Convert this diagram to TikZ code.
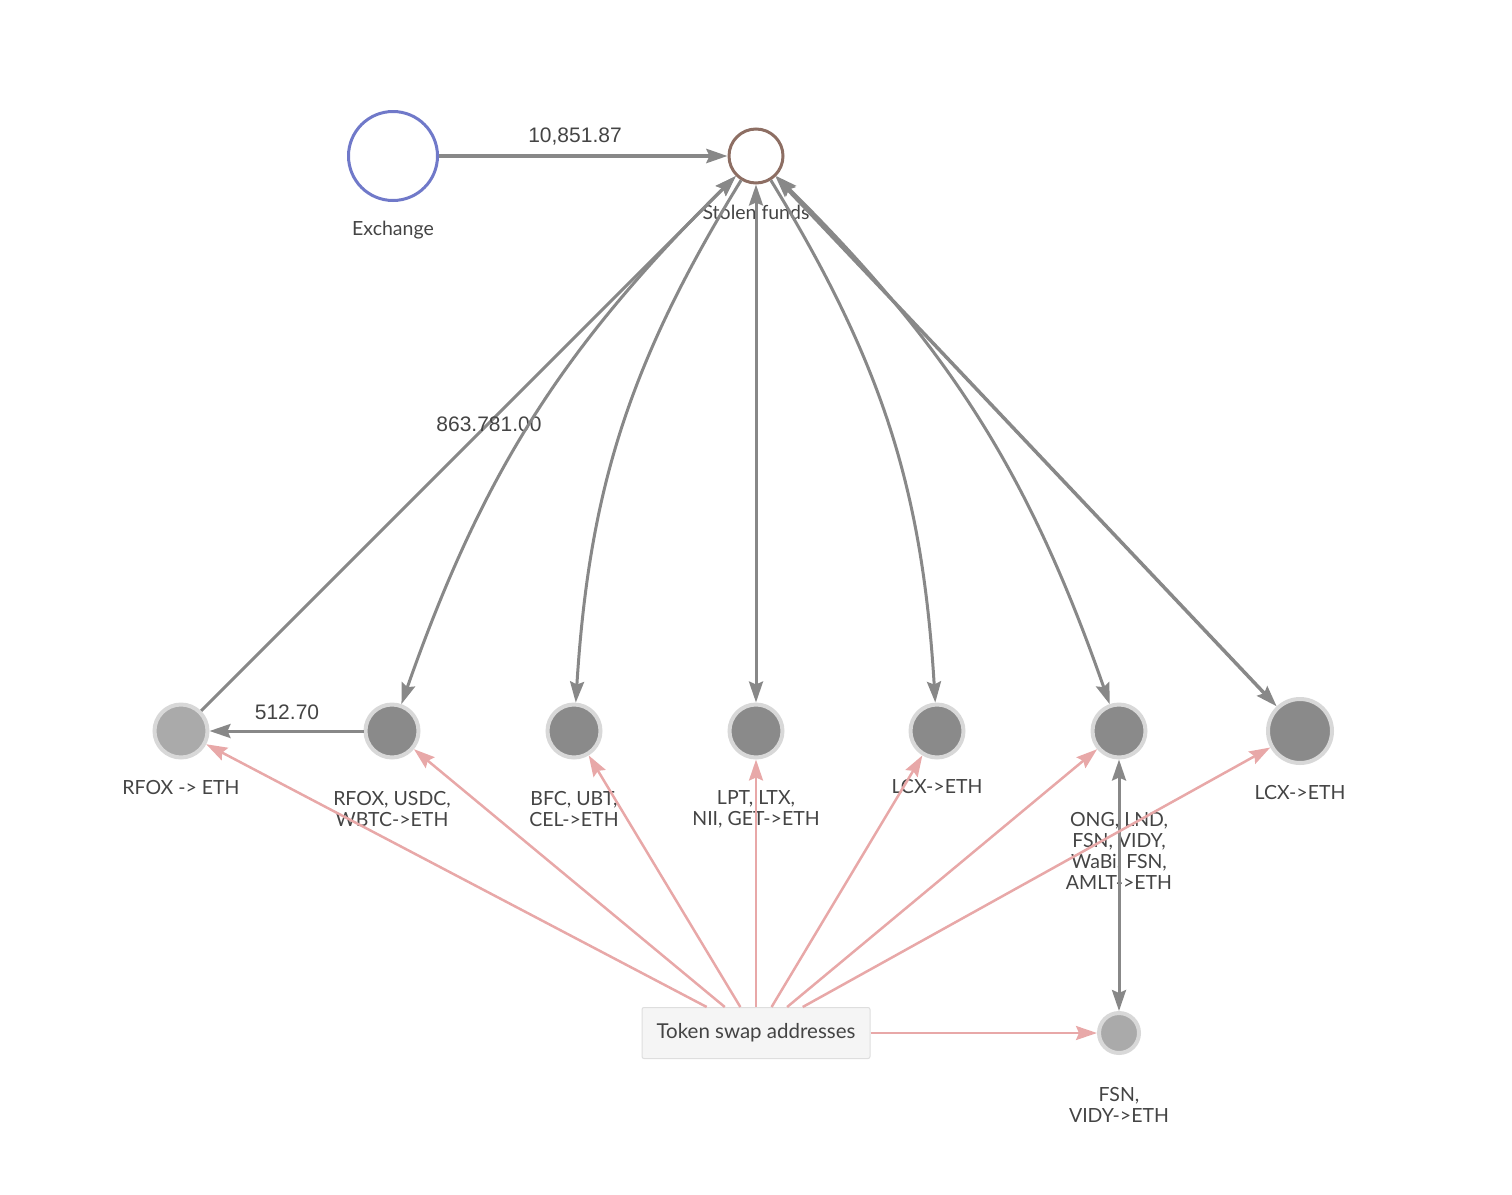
\documentclass[tikz,border=0pt]{standalone}
\usepackage{fontspec}
\setmainfont{Lato}
\newfontfamily\edgefont{Liberation Sans}
\usetikzlibrary{arrows.meta,positioning}

\definecolor{exblue}{RGB}{112,121,201}
\definecolor{stolenbrown}{RGB}{141,110,99}
\definecolor{edgegray}{RGB}{136,136,136}
\definecolor{swappink}{RGB}{232,168,168}
\definecolor{nodedark}{RGB}{138,138,138}
\definecolor{nodelight}{RGB}{170,170,170}
\definecolor{ringgray}{RGB}{216,216,216}
\definecolor{txtgray}{RGB}{68,68,68}
\definecolor{boxfill}{RGB}{245,245,245}
\definecolor{boxgray}{RGB}{222,222,222}

\tikzset{
  ring/.style={circle, draw=ringgray, line width=4pt, inner sep=0pt, minimum size=53pt},
  darknode/.style={ring, fill=nodedark},
  lightnode/.style={ring, fill=nodelight},
  nodelbl/.style={text=txtgray, font=\fontsize{19.5}{21}\selectfont, align=center, inner sep=0pt},
  edgelbl/.style={text=txtgray, font=\edgefont\fontsize{21}{24}\selectfont, inner sep=0pt},
  flow/.style={draw=edgegray, line width=3pt, ->},
  swapedge/.style={draw=swappink, line width=2.5pt, ->},
}

\begin{document}
\begin{tikzpicture}[x=1pt, y=-1pt, >={Stealth[length=21pt, width=14pt, inset=3pt]}]
  \useasboundingbox (0,0) rectangle (1512,1194);

  %%%%% NODES %%%%%
  \node[circle, draw=exblue, line width=3pt, minimum size=89pt, inner sep=0pt] (exch) at (393,156) {};
  \node[circle, draw=stolenbrown, line width=3pt, minimum size=54pt, inner sep=0pt] (stolen) at (756,156) {};

  \node[lightnode] (rfox) at (181,731) {};
  \node[darknode] (rfoxusdc) at (392,731) {};
  \node[darknode] (bfc) at (574,731) {};
  \node[darknode] (lpt) at (756,731) {};
  \node[darknode] (lcx) at (937,731) {};
  \node[darknode] (ong) at (1119,731) {};
  \node[darknode, minimum size=64pt] (lcxr) at (1300,731) {};
  \node[lightnode, minimum size=40pt] (fsn) at (1119,1033) {};

  \node[draw=boxgray, fill=boxfill, line width=1pt, rounded corners=2pt, minimum width=228pt, minimum height=51pt,
        text=txtgray, font=\fontsize{20.5}{21}\selectfont] (swap) at (756,1033) {Token swap addresses};

  %%%%% LABELS %%%%%
  \node[nodelbl] (exch-l) at (393,230) {Exchange};
  \node[nodelbl] (stolen-l) at (756,212) {Stolen funds};
  \node[nodelbl] (rfox-l) at (181,787) {RFOX -> ETH};
  \node[nodelbl] (rfoxusdc-l) at (392,809) {RFOX, USDC,\\WBTC->ETH};
  \node[nodelbl] (bfc-l) at (574,809) {BFC, UBT,\\CEL->ETH};
  \node[nodelbl] (lpt-l) at (756,809) {LPT, LTX,\\NII, GET->ETH};
  \node[nodelbl] (lcx-l) at (937,787) {LCX->ETH};
  \node[nodelbl] (ong-l) at (1119,851) {ONG, LND,\\FSN, VIDY,\\WaBi, FSN,\\AMLT->ETH};
  \node[nodelbl] (lcxr-l) at (1300,793) {LCX->ETH};
  \node[nodelbl] (fsn-l) at (1119,1105) {FSN,\\VIDY->ETH};

  %%%%% FLOWS %%%%%
  \draw[flow, line width=4pt] (exch) -- (stolen);
  \node[edgelbl] (amt-a) at (575,137) {10,851.87};

  \draw[flow] (rfox) -- (stolen);
  \node[edgelbl] (amt-b) at (489,424) {863.781.00};

  \draw[flow] (rfoxusdc) -- (rfox);
  \node[edgelbl] (amt-c) at (287,712) {512.70};

  \draw[flow, <->] (stolen) to[bend right=13] (rfoxusdc);
  \draw[flow] (stolen) to[bend right=14] (bfc);
  \draw[flow, <->] (stolen) -- (lpt);
  \draw[flow] (stolen) to[bend left=14] (lcx);
  \draw[flow, <->] (stolen) to[bend left=13] (ong);
  \draw[flow, <->, line width=3.5pt] (stolen) -- (lcxr);
  \draw[flow, <->] (ong) -- (fsn);

  %%%%% SWAPS %%%%%
  \foreach \n in {rfox,rfoxusdc,bfc,lpt,lcx,ong,lcxr,fsn}
    \draw[swapedge] (swap) -- (\n);
\end{tikzpicture}
\end{document}
